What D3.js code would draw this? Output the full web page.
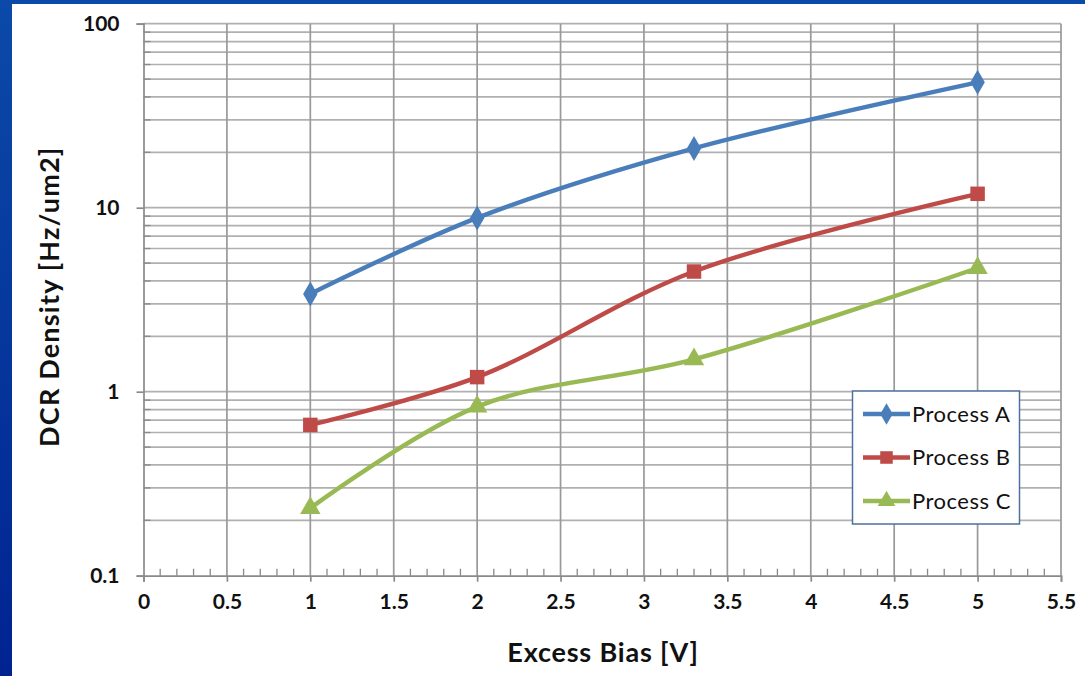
<!DOCTYPE html>
<html>
<head>
<meta charset="utf-8">
<script src="https://cdn.jsdelivr.net/npm/d3@7"></script>
<style>
  html, body { margin: 0; padding: 0; background: #fff; }
  svg { display: block; }
</style>
</head>
<body>
<svg id="chart" width="1085" height="676"></svg>
<script>
// Excess bias (V) for each measured point
const biasA = [1, 2, 3.3, 5];
const biasB = [1, 2, 3.3, 5];
const biasC = [1, 2, 3.3, 5];
// DCR density (Hz/um2)
const dcrA = [3.4, 8.8, 21, 48];
const dcrB = [0.66, 1.2, 4.5, 11.9];
const dcrC = [0.233, 0.83, 1.5, 4.7];
const seriesNames = ["Process A", "Process B", "Process C"];
const xTicks = [0, 0.5, 1, 1.5, 2, 2.5, 3, 3.5, 4, 4.5, 5, 5.5];
const yTicks = [0.1, 1, 10, 100];

const W = 1085, H = 676;
const svg = d3.select("#chart");

// Slide background: blue frame on the left and top edges
const defs = svg.append("defs");
const grad = defs.append("linearGradient").attr("id", "frame")
  .attr("x1", 0).attr("y1", 0).attr("x2", 0).attr("y2", 1);
grad.append("stop").attr("offset", "0%").attr("stop-color", "#0b4aa8");
grad.append("stop").attr("offset", "100%").attr("stop-color", "#002391");
svg.append("rect").attr("width", W).attr("height", H).attr("fill", "url(#frame)");
svg.append("rect").attr("x", 12).attr("y", 4).attr("width", W - 12).attr("height", H - 4).attr("fill", "#fff");

const m = { left: 143.5, right: 1061, top: 23.7, bottom: 575.7 };
const x = d3.scaleLinear().domain([0, 5.5]).range([m.left, m.right]);
const y = d3.scaleLog().domain([0.1, 100]).range([m.bottom, m.top]);

const font = "'Lato', 'Open Sans', sans-serif";

// Horizontal gridlines at every log step (1..9 per decade)
const minorY = [];
for (let e = -1; e < 2; e++) for (let k = 1; k <= 9; k++) minorY.push(k * Math.pow(10, e));
minorY.push(100);
const grid = svg.append("g");
grid.selectAll("line.h").data(minorY.filter(v => v > 0.1)).join("line")
  .attr("x1", m.left).attr("x2", m.right)
  .attr("y1", d => y(d)).attr("y2", d => y(d))
  .attr("stroke", "#b0b0b0").attr("stroke-width", 1.7);
// Vertical gridlines at each major x step
grid.selectAll("line.v").data(xTicks.filter(v => v > 0)).join("line")
  .attr("x1", d => x(d)).attr("x2", d => x(d))
  .attr("y1", m.top).attr("y2", m.bottom)
  .attr("stroke", "#999").attr("stroke-width", 1.7);

// X axis: majors point down, minors point up
const xAxis = svg.append("g").attr("transform", `translate(0,${m.bottom})`)
  .call(d3.axisBottom(x).tickValues(xTicks).tickFormat(d3.format("")).tickSize(6).tickPadding(12));
const xMinor = d3.range(0, 55).filter(i => i % 5 !== 0).map(i => i / 10);
svg.append("g").selectAll("line").data(xMinor).join("line")
  .attr("x1", d => x(d)).attr("x2", d => x(d))
  .attr("y1", m.bottom).attr("y2", m.bottom - 7)
  .attr("stroke", "#8a8a8a").attr("stroke-width", 1.3);

// Y axis: majors point out, minors point in
const yAxis = svg.append("g").attr("transform", `translate(${m.left},0)`)
  .call(d3.axisLeft(y).tickValues(yTicks).tickFormat(d => d === 0.1 ? "0.1" : String(d)).tickSize(7).tickPadding(17));
svg.append("g").selectAll("line").data(minorY.filter(v => yTicks.indexOf(v) < 0)).join("line")
  .attr("x1", m.left).attr("x2", m.left + 7)
  .attr("y1", d => y(d)).attr("y2", d => y(d))
  .attr("stroke", "#8a8a8a").attr("stroke-width", 1.3);

[xAxis, yAxis].forEach(a => {
  a.attr("font-size", null).attr("font-family", null);
  a.select(".domain").attr("stroke", "#8a8a8a").attr("stroke-width", 1.7);
  a.selectAll(".tick line").attr("stroke", "#8a8a8a").attr("stroke-width", 1.7);
  a.selectAll("text").attr("fill", "#111").style("font-family", font)
    .style("font-size", "21px").style("font-weight", "bold");
});
yAxis.selectAll("text").attr("dy", "0.34em");

// Axis titles
svg.append("text").attr("x", 603).attr("y", 662).attr("text-anchor", "middle")
  .style("font-family", font).style("font-size", "27px").style("font-weight", "bold")
  .style("letter-spacing", "0.8px")
  .attr("fill", "#111").text("Excess Bias [V]");
svg.append("text").attr("transform", `translate(59,${(m.top + m.bottom) / 2 - 3}) rotate(-90)`)
  .attr("text-anchor", "middle")
  .style("font-family", font).style("font-size", "27px").style("font-weight", "bold")
  .style("letter-spacing", "1.2px")
  .attr("fill", "#111").text("DCR Density [Hz/um2]");

// Series
const series = [
  { name: seriesNames[0], xs: biasA, ys: dcrA, color: "#4a7ebb", sym: d3.symbolDiamond, size: 180 },
  { name: seriesNames[1], xs: biasB, ys: dcrB, color: "#be4b48", sym: d3.symbolSquare, size: 210 },
  { name: seriesNames[2], xs: biasC, ys: dcrC, color: "#98b954", sym: d3.symbolTriangle, size: 180 }
];

const line = d3.line().x(d => x(d[0])).y(d => y(d[1])).curve(d3.curveCatmullRom.alpha(0.5));
series.forEach(s => {
  const pts = s.xs.map((v, i) => [v, s.ys[i]]);
  svg.append("path").datum(pts).attr("d", line)
    .attr("fill", "none").attr("stroke", s.color).attr("stroke-width", 4.4)
    .attr("stroke-linejoin", "round");
  svg.append("g").selectAll("path").data(pts).join("path")
    .attr("d", d3.symbol(s.sym, s.size))
    .attr("transform", d => `translate(${x(d[0])},${y(d[1])})`)
    .attr("fill", s.color);
});

// Legend
const lg = svg.append("g");
lg.append("rect").attr("x", 852.5).attr("y", 391).attr("width", 167).attr("height", 133)
  .attr("fill", "#fff").attr("stroke", "#4f6f9f").attr("stroke-width", 1.5);
series.forEach((s, i) => {
  const cy = 414 + i * 43.5;
  lg.append("line").attr("x1", 863).attr("x2", 910).attr("y1", cy).attr("y2", cy)
    .attr("stroke", s.color).attr("stroke-width", 4.4);
  lg.append("path").attr("d", d3.symbol(s.sym, s.size * 0.75))
    .attr("transform", `translate(886.5,${cy})`).attr("fill", s.color);
  lg.append("text").attr("x", 912).attr("y", cy).attr("dy", "0.36em")
    .style("font-family", font).style("font-size", "22px").style("letter-spacing", "0.5px")
    .attr("fill", "#111").text(s.name);
});
</script>
</body>
</html>
